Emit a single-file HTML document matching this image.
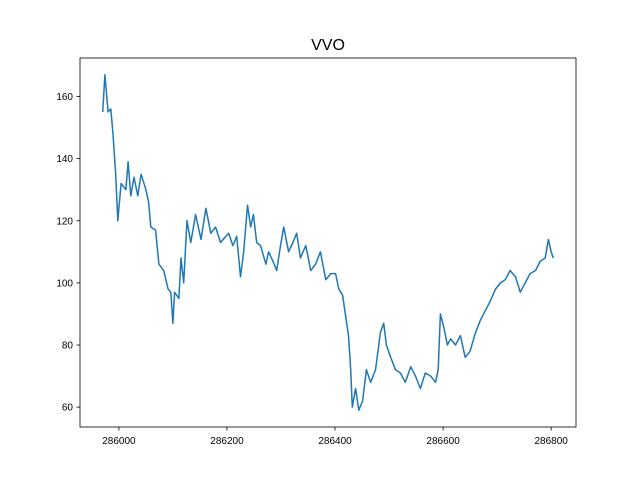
<!DOCTYPE html>
<html><head><meta charset="utf-8"><style>body{margin:0;background:#fff}svg{font-family:"Liberation Sans","DejaVu Sans",sans-serif}</style></head>
<body>
<svg id="chart" width="640" height="480" xmlns="http://www.w3.org/2000/svg">
<rect width="640" height="480" fill="#fff"/>
<text x="328" y="50" font-size="16" text-anchor="middle">VVO</text>
<g id="axes"></g>
</svg>
<script>
const xValues=[285970,285974,285980,285985,285989,285994,285998,286004,286013,286017,286022,286028,286035,286041,286050,286055,286059,286068,286074,286083,286091,286096,286100,286103,286111,286115,286120,286126,286133,286142,286152,286161,286170,286179,286188,286203,286211,286218,286225,286231,286238,286244,286249,286255,286262,286272,286277,286285,286292,286299,286305,286314,286322,286329,286336,286346,286355,286364,286373,286383,286392,286401,286407,286414,286419,286425,286429,286432,286438,286444,286451,286458,286466,286475,286484,286490,286495,286503,286512,286521,286530,286540,286549,286558,286567,286577,286586,286591,286595,286601,286608,286614,286623,286632,286641,286650,286660,286669,286678,286687,286697,286706,286715,286724,286734,286743,286752,286761,286771,286780,286789,286795,286800,286804];
const yValues=[155,167,155,156,148,135,120,132,130,139,128,134,128,135,130,126,118,117,106,104,98,97,87,97,95,108,100,120,113,122,114,124,116,118,113,116,112,115,102,110,125,118,122,113,112,106,110,107,104,112,118,110,113,116,108,112,104,106,110,101,103,103,98,96,90,83,72,60,66,59,62,72,68,72,84,87,80,76,72,71,68,73,70,66,71,70,68,72,90,86,80,82,80,83,76,78,84,88,91,94,98,100,101,104,102,97,100,103,104,107,108,114,110,108];
const xTicks=[286000,286200,286400,286600,286800];
const yTicks=[60,80,100,120,140,160];
const L=80,R=576,T=58,B=427;
const xMin=285928,xMax=286846,yMin=53.6,yMax=172.4;
const sx=v=>L+(v-xMin)/(xMax-xMin)*(R-L);
const sy=v=>B-(v-yMin)/(yMax-yMin)*(B-T);
const NS="http://www.w3.org/2000/svg";
const g=document.getElementById('axes');
function mk(t,a){const e=document.createElementNS(NS,t);for(const k in a)e.setAttribute(k,a[k]);g.appendChild(e);return e;}
const line=mk('polyline',{points:xValues.map((x,i)=>sx(x).toFixed(1)+','+sy(yValues[i]).toFixed(1)).join(' '),fill:'none',stroke:'#1f77b4','stroke-width':1.5,'stroke-linejoin':'round'});


const frame=mk('rect',{x:L,y:T,width:R-L,height:B-T,fill:'none',stroke:'#000','stroke-width':0.8});


xTicks.forEach(v=>{const x=sx(v);
 const t=mk('line',{x1:x,x2:x,y1:B,y2:B+3.5,stroke:'#000','stroke-width':0.8});
 
 
 const l=mk('text',{x:x,y:B+17,'font-size':10,'text-anchor':'middle'});l.textContent=v;
 
 });
yTicks.forEach(v=>{const y=sy(v);
 const t=mk('line',{x1:L-3.5,x2:L,y1:y,y2:y,stroke:'#000','stroke-width':0.8});
 
 
 const l=mk('text',{x:L-7,y:y+3.5,'font-size':10,'text-anchor':'end'});l.textContent=v;
 
 });
</script>
</body></html>
